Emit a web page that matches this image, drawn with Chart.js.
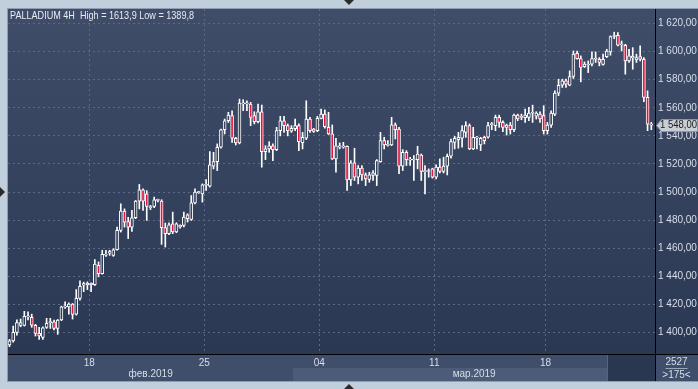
<!DOCTYPE html>
<html lang="ru">
<head>
<meta charset="UTF-8">
<title>PALLADIUM 4H</title>
<script src="https://cdn.jsdelivr.net/npm/chart.js@4"></script>
<style>
  * { margin: 0; padding: 0; box-sizing: border-box; }
  html, body { width: 698px; height: 389px; overflow: hidden; background: #c1cedc; }
  canvas { display: block; }
</style>
</head>
<body>
<canvas id="chart" width="698" height="389"></canvas>
<script>
// 4H candles, left to right (index 0..173)
const opens = [1391,1394,1400,1405,1405,1411,1410.7,1405,1399.3,1396.5,
  1403.5,1407,1407.6,1402.8,1408.8,1418,1418.2,1420.1,1413,1424.2,
  1433.6,1434,1434,1434,1447.8,1441.9,1455,1456.5,1454.9,1458.9,
  1472.7,1486.4,1479,1475,1481.7,1493.5,1501.6,1498.7,1488.8,1489.7,
  1494,1493.5,1474.6,1470.3,1477.4,1471.5,1476.3,1476.2,1483.8,1480.5,
  1492.3,1499.6,1498.7,1504.8,1504.2,1518.4,1521.7,1531.9,1544.4,1550.8,
  1554.4,1538.3,1535,1562.8,1562.8,1562.7,1554.4,1550.1,1557.2,1528.8,
  1530.7,1533,1530.2,1543.7,1550.8,1547.3,1543.3,1545.2,1547.3,1535.1,
  1538.3,1552,1544.9,1543.7,1552.5,1555.6,1546.1,1541.4,1523.6,1532,
  1532,1532.6,1508.7,1520.8,1510.6,1517,1512.2,1509,1511.8,1511.8,
  1521.7,1536.6,1533.2,1533.5,1547.8,1544.9,1518.4,1528.3,1522.7,1522.8,
  1523.1,1526.4,1514.5,1514.6,1516.5,1510.6,1517.7,1514.6,1518.4,1525.5,
  1535.4,1537.3,1538.3,1542.5,1547.3,1530.7,1538.4,1533.5,1539,1539,
  1548,1547.3,1553.2,1549.6,1546.1,1547.7,1544.4,1554.8,1553.2,1553,
  1553.2,1556.1,1554,1555.5,1554.4,1543.7,1547.7,1555.5,1570.5,1576.1,
  1579.2,1576.1,1582.3,1598.9,1595.1,1589.4,1590.5,1591.1,1594.6,1594.6,
  1591,1596.5,1599.8,1610.8,1611.7,1604.8,1604.6,1593.4,1595.5,1594.2,
  1596.5,1594.6,1567.4,1547.7];
const highs = [1395,1404.5,1409,1409.5,1415,1414.7,1413,1405.7,1403.6,1404,
  1410,1410,1408.8,1409.2,1418.7,1421.8,1421.1,1420.6,1430.5,1436.7,
  1435.8,1436,1435.3,1451.9,1450.2,1458.5,1458.5,1458.5,1459.6,1475,
  1491.6,1488,1482,1486.9,1494,1505.4,1502.3,1501,1490.5,1496.4,
  1495,1494.5,1477.9,1478.1,1485.7,1478.1,1476.7,1485.7,1484.5,1497.5,
  1502.3,1500.5,1505.8,1508.9,1528.8,1528.3,1534.3,1544.9,1552,1556.8,
  1557.9,1539,1566.2,1565.8,1565,1563.9,1557.2,1562.7,1562,1533,
  1535.9,1534.3,1546.1,1553.9,1553.9,1548.5,1547.3,1552,1548.5,1542.5,
  1565,1553.2,1545.4,1553.9,1559.1,1558.5,1556.8,1547.8,1538.3,1535,
  1535.4,1533,1522.4,1531.2,1518.9,1518.9,1513.6,1514.1,1515.3,1523.1,
  1542.5,1539,1536.6,1553.2,1549.2,1546.1,1530.2,1529.5,1524.8,1526,
  1532.6,1527.1,1518.9,1516.5,1517,1519.3,1523.6,1524.8,1527.1,1537.8,
  1539.7,1542.5,1547.3,1550.1,1548.5,1546.1,1539.7,1539,1539.7,1549.6,
  1549.6,1554.8,1554.8,1550.8,1548.4,1549.6,1555.5,1555.5,1555.5,1559.1,
  1560.3,1561.9,1557.2,1557.2,1561.5,1549.6,1557.9,1572.1,1580.4,1580.4,
  1580.4,1586.3,1600.5,1600.5,1597,1592.7,1593.4,1599.8,1599.8,1595.8,
  1598.2,1601.7,1611.2,1613.9,1613.6,1607.6,1605.3,1601.7,1602.9,1598.2,
  1604.1,1595.8,1572.1,1549.6];
const lows = [1389.8,1393,1398,1404,1404.5,1408.8,1403.6,1397.4,1395,1395,
  1402.8,1402.8,1401.7,1398.6,1408.3,1417,1413,1409.5,1412.3,1423,
  1429,1430.5,1429,1433.4,1439.6,1441.5,1454.2,1454.9,1454.2,1458.5,
  1471.5,1475,1466.8,1472,1481,1488,1486.9,1479.8,1487.5,1488.8,
  1493,1462.7,1460.8,1469.6,1470.3,1471,1474.3,1475.1,1478.6,1479.8,
  1491.6,1499,1492.8,1501.1,1503.5,1516.5,1515.3,1531.2,1541.4,1549.6,
  1535.4,1533.5,1534.3,1558,1558,1547.3,1548.5,1549.2,1517.7,1523.1,
  1528.3,1522.4,1529.5,1540,1542.5,1540,1542.5,1543.7,1529.5,1530.7,
  1537.3,1542.5,1542.5,1543,1552,1545.5,1541,1523.1,1514.1,1530.7,
  1531.2,1501.1,1504.6,1508.2,1505.8,1508.2,1504.6,1507,1508.2,1504.6,
  1521.2,1530.7,1532.6,1533,1537.8,1513,1515.3,1518.9,1518.9,1508.2,
  1516.5,1508.2,1498.7,1510.6,1509.9,1509.4,1513.6,1513.6,1512.2,1524.1,
  1530.7,1531.2,1531.9,1539,1530.2,1530.2,1530.7,1529.5,1534.3,1538.3,
  1544.4,1543.7,1546.1,1543,1540.6,1541.3,1543,1550.8,1551.5,1549.6,
  1550.8,1549.6,1552,1549.6,1541.3,1541.3,1546.1,1554.4,1568.6,1574.5,
  1574.5,1575.7,1580.9,1594.6,1578.5,1588.7,1585.1,1589.9,1592.3,1589.9,
  1590.4,1595.8,1597.5,1609.3,1604.1,1600.5,1584,1592.3,1587.5,1592.3,
  1593.4,1564.3,1543.7,1544.4];
const closes = [1394,1400,1407,1407,1411.5,1411.8,1405.2,1399.3,1397.4,1403.3,
  1406.4,1407.5,1402.8,1408.8,1418.2,1418.5,1420.1,1412.8,1424.2,1432.9,
  1434.8,1435,1435,1448.6,1441.9,1455.6,1455.8,1457.5,1458.9,1472.7,
  1486.4,1478.6,1475,1481.7,1493.5,1501.6,1493.5,1489.7,1489.7,1494.5,
  1494.5,1474.6,1470.3,1476.7,1471.5,1477.4,1475.1,1482.2,1481,1492.3,
  1499.9,1500,1505.1,1505.3,1519.3,1521.7,1531.9,1544.4,1550.8,1554.9,
  1538.3,1535,1563.4,1563.4,1563.2,1553.2,1550.1,1557.2,1528.8,1530.7,
  1533,1530.2,1543.7,1550.8,1547.3,1543.5,1545.4,1547.3,1535.9,1539,
  1552,1543.7,1543.2,1552.5,1555.6,1546.5,1541.4,1523.6,1533,1533,
  1533,1508.7,1520.8,1510.6,1517,1512.2,1509.4,1512.2,1513.6,1522.4,
  1536.6,1533.5,1533.6,1547.8,1544.4,1518.4,1528.3,1523.1,1523.2,1523.4,
  1527.1,1514.6,1515,1515.1,1510.6,1517.7,1514.6,1518.4,1525.5,1535.9,
  1538.3,1539,1543.7,1547.3,1530.7,1539,1538.8,1538.3,1536.6,1547.3,
  1548.7,1553.2,1549.6,1546.1,1547.7,1544.4,1554.8,1552,1553.6,1554.8,
  1556.3,1556.5,1556.3,1552,1543.7,1547.7,1556.3,1570.5,1576.1,1579.2,
  1576.8,1582.3,1598.2,1595.1,1588.7,1591.1,1590.9,1595.1,1595,1592.3,
  1594.6,1600.5,1610.7,1611.3,1604.6,1605.2,1593.4,1597,1596.8,1595.8,
  1594.6,1567.4,1548.4,1548];

// axis stuff
const priceTicks = [1400,1420,1440,1460,1480,1500,1520,1540,1560,1580,1600,1620];
const weekStarts = [21.5, 52.5, 83.5, 114.5, 144.5];
const weekLabels = ['18', '25', '04', '11', '18'];
const monthLabels = ['фев.2019', 'мар.2019'];
const monthStarts = [-0.4, 76.5];   // where each month begins on the bar axis
const boxStart = 161;               // dark box at the end of the date bar
const title = 'PALLADIUM 4H  High = 1613,9 Low = 1389,8';
const barCount = ['2527', '>175<'];

const BEAR = '#e3143e';
const FRAME = '#c1cedc';
const TXT = '#d8deea';
const FAMILY = '"Liberation Sans", Arial, sans-serif';

let grad = null, gradKey = '';
function plotGradient(chart) {
  const a = chart.chartArea;
  if (!a) return '#35425e';
  const key = a.top + ':' + a.bottom;
  if (!grad || gradKey !== key) {
    grad = chart.ctx.createLinearGradient(0, a.top, 0, a.bottom);
    grad.addColorStop(0, '#3f4d68');
    grad.addColorStop(1, '#2b3854');
    gradKey = key;
  }
  return grad;
}

function fmtPrice(v) {
  const s = v.toFixed(2).replace('.', ',');
  const [i, d] = s.split(',');
  return i.replace(/\B(?=(\d{3})+(?!\d))/g, ' ') + ',' + d;
}

const panelPlugin = {
  id: 'panel',
  beforeDraw(chart) {
    const { ctx, chartArea: a, width: W, height: H } = chart;
    const x = chart.scales.x;
    ctx.save();
    ctx.fillStyle = FRAME;
    ctx.fillRect(0, 0, W, H);
    ctx.fillStyle = '#8f9db2';
    ctx.fillRect(a.left - 1, a.top - 1, W - a.left + 1, a.bottom + 29 - a.top);
    ctx.fillStyle = plotGradient(chart);
    ctx.fillRect(a.left, a.top, W - a.left, a.bottom - a.top);
    // date bar
    const yb = a.bottom;
    ctx.fillStyle = '#3f4e6b';
    ctx.fillRect(a.left, yb, W - a.left, 27);
    const bx = Math.round(x.getPixelForValue(monthStarts[1]));
    const dx = Math.round(x.getPixelForValue(boxStart));
    ctx.fillStyle = '#4c5b77';
    ctx.fillRect(bx, yb + 14, dx - bx, 13);
    ctx.fillStyle = '#2a3751';
    ctx.fillRect(dx, yb + 1, a.right - dx, 26);
    ctx.fillStyle = '#56647e';
    ctx.fillRect(dx, yb + 1, 1, 26);
    ctx.restore();
  },
  afterDraw(chart) {
    const { ctx, chartArea: a, width: W, height: H } = chart;
    const x = chart.scales.x, y = chart.scales.y;
    ctx.save();
    // separators
    ctx.fillStyle = '#000000';
    ctx.fillRect(a.right, a.top, 1, a.bottom + 27 - a.top);
    ctx.fillRect(a.left, a.bottom, W - a.left, 1);

    // title
    ctx.font = '11px ' + FAMILY;
    ctx.fillStyle = '#e8ecf3';
    ctx.textBaseline = 'middle';
    ctx.textAlign = 'left';
    ctx.fillText(title, a.left + 2, a.top + 7, 184);

    // month labels
    ctx.font = '10px ' + FAMILY;
    ctx.textAlign = 'center';
    ctx.fillStyle = TXT;
    const edges = monthStarts.map(v => Math.max(a.left, x.getPixelForValue(v))).concat([a.right]);
    monthLabels.forEach((m, i) => {
      ctx.fillText(m, (edges[i] + edges[i + 1]) / 2, a.bottom + 20);
    });

    // bar count box
    const cx = (a.right + W) / 2;
    ctx.fillText(barCount[0], cx, a.bottom + 8);
    ctx.fillStyle = '#9aa6ba';
    ctx.fillRect(cx - 11, a.bottom + 14, 22, 1);
    ctx.fillStyle = TXT;
    ctx.fillText(barCount[1], cx, a.bottom + 21);

    // last price tag
    const last = closes[closes.length - 1];
    const py = Math.round(y.getPixelForValue(last)) + 0.5;
    ctx.beginPath();
    ctx.moveTo(a.right + 1.5, py);
    ctx.lineTo(a.right + 6.5, py - 6);
    ctx.lineTo(W - 0.5, py - 6);
    ctx.lineTo(W - 0.5, py + 6);
    ctx.lineTo(a.right + 6.5, py + 6);
    ctx.closePath();
    ctx.fillStyle = '#c9cdd4';
    ctx.fill();
    ctx.strokeStyle = '#8e96a3';
    ctx.lineWidth = 1;
    ctx.stroke();
    ctx.fillStyle = '#1b1b1b';
    ctx.textAlign = 'left';
    ctx.fillText(fmtPrice(last), a.right + 5, py, W - a.right - 6);

    // little scroll arrows in the frame
    ctx.fillStyle = '#2b2b2b';
    const mid = W / 2;
    ctx.beginPath(); ctx.moveTo(mid - 5, 0); ctx.lineTo(mid + 5, 0); ctx.lineTo(mid, 5); ctx.fill();
    ctx.beginPath(); ctx.moveTo(mid - 5, H); ctx.lineTo(mid + 5, H); ctx.lineTo(mid, H - 5); ctx.fill();
    ctx.beginPath(); ctx.moveTo(0, 187); ctx.lineTo(0, 197); ctx.lineTo(5, 192); ctx.fill();
    ctx.restore();
  }
};

new Chart(document.getElementById('chart'), {
  type: 'bar',
  data: {
    datasets: [
      {
        label: 'body',
        data: closes.map((c, i) => ({ x: i, y: [opens[i], c] })),
        barThickness: 3,
        minBarLength: 1,
        borderWidth: 1,
        borderColor: '#ffffff',
        borderSkipped: false,
        backgroundColor: c => closes[c.dataIndex] < opens[c.dataIndex] ? BEAR : plotGradient(c.chart),
        grouped: false,
        order: 0
      },
      {
        label: 'wick',
        data: highs.map((h, i) => ({ x: i, y: [lows[i], h] })),
        barThickness: 1,
        borderWidth: 0,
        backgroundColor: '#ffffff',
        grouped: false,
        order: 1
      }
    ]
  },
  options: {
    responsive: false,
    animation: false,
    events: [],
    layout: { padding: { left: 8, top: 8, right: 0, bottom: 8 } },
    plugins: { legend: { display: false }, tooltip: { enabled: false } },
    scales: {
      x: {
        type: 'linear',
        min: -0.4,
        max: 174,
        offset: false,
        afterBuildTicks: s => { s.ticks = weekStarts.map(v => ({ value: v })); },
        afterFit: s => { s.height = 27; },
        grid: { color: '#5a6984', drawTicks: false, offset: false },
        border: { display: false, dash: [2, 3] },
        ticks: {
          autoSkip: false,
          maxRotation: 0,
          padding: 3,
          color: TXT,
          font: { family: FAMILY, size: 10 },
          callback: (v, i) => weekLabels[i]
        }
      },
      y: {
        type: 'linear',
        position: 'right',
        min: 1384.6,
        max: 1630.4,
        afterBuildTicks: s => { s.ticks = priceTicks.map(v => ({ value: v })); },
        afterFit: s => { s.width = 43; },
        grid: { color: '#5a6984', drawTicks: false },
        border: { display: false, dash: [2, 3] },
        ticks: {
          padding: 3,
          color: TXT,
          font: { family: FAMILY, size: 10 },
          callback: v => fmtPrice(v)
        }
      }
    }
  },
  plugins: [panelPlugin]
});
</script>
</body>
</html>
